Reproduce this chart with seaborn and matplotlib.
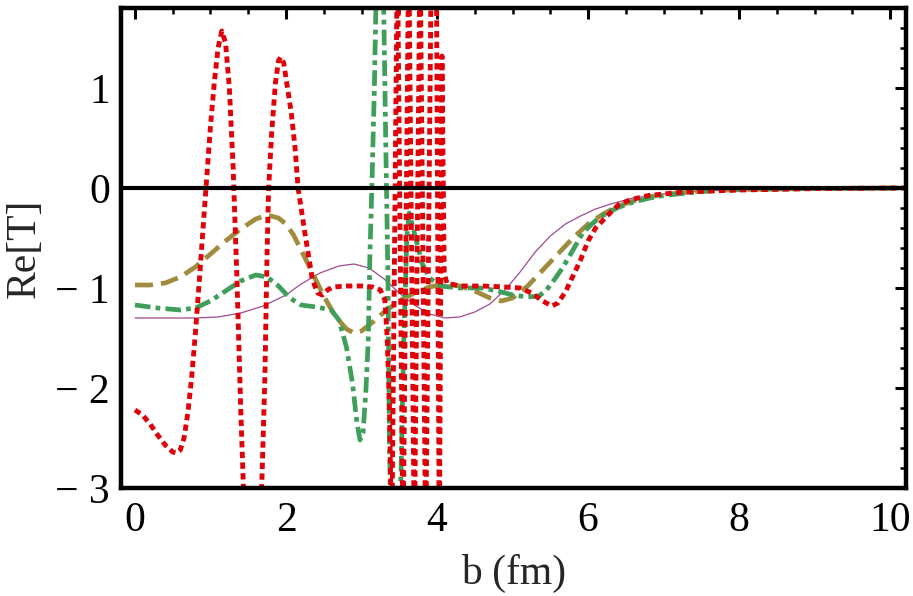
import numpy as np
import pandas as pd
import matplotlib
matplotlib.use("Agg")
import matplotlib.pyplot as plt
from matplotlib.ticker import MultipleLocator
import seaborn as sns

# ---------------- data ----------------
purple_x = [0, 0.4, 0.8, 1.1, 1.4, 1.7, 2.0, 2.2, 2.45, 2.7, 2.9, 3.1, 3.3, 3.5, 3.7, 3.9,
            4.1, 4.3, 4.5, 4.7, 4.9, 5.1, 5.3, 5.5, 5.7, 5.9, 6.1, 6.3, 6.6, 7.0, 7.5, 8.0, 9.0, 10.2]
purple_y = [-1.30, -1.30, -1.30, -1.29, -1.25, -1.18, -1.07, -0.96, -0.85, -0.78, -0.76, -0.80,
            -0.91, -1.05, -1.17, -1.26, -1.30, -1.29, -1.24, -1.16, -1.02, -0.84, -0.64, -0.48,
            -0.36, -0.28, -0.21, -0.16, -0.10, -0.06, -0.03, -0.015, -0.005, 0.0]

olive_x = [0, 0.2, 0.4, 0.6, 0.8, 1.0, 1.2, 1.4, 1.6, 1.75, 1.9, 2.0, 2.1, 2.2, 2.35, 2.5, 2.65,
           2.8, 2.9, 3.0, 3.15, 3.3, 3.5, 3.7, 3.9, 4.1, 4.3, 4.5, 4.7, 4.85, 5.0, 5.2, 5.4, 5.6,
           5.8, 6.0, 6.2, 6.4, 6.6, 6.8, 7.0, 7.5, 8.0, 9.0, 10.2]
olive_y = [-0.97, -0.97, -0.95, -0.89, -0.79, -0.66, -0.53, -0.41, -0.31, -0.27, -0.30, -0.36,
           -0.47, -0.62, -0.85, -1.08, -1.28, -1.41, -1.45, -1.43, -1.34, -1.24, -1.13, -1.05,
           -0.99, -0.96, -0.98, -1.03, -1.10, -1.13, -1.10, -0.98, -0.82, -0.66, -0.50, -0.36,
           -0.26, -0.18, -0.13, -0.09, -0.065, -0.03, -0.015, -0.005, 0.0]

green_x = [0, 0.3, 0.6, 0.8, 1.0, 1.2, 1.4, 1.6, 1.75, 1.9, 2.05, 2.2, 2.4, 2.6, 2.7, 2.8, 2.88,
           2.94, 2.98, 3.02, 3.06, 3.09, 3.11, 3.14, 3.17, 3.20, 3.25, 3.29, 3.32, 3.35, 3.37,
           3.40, 3.45, 3.50, 3.53, 3.56, 3.60, 3.63, 3.70, 3.80, 3.90, 4.04, 4.3, 4.6, 4.8, 5.0,
           5.2, 5.35, 5.45, 5.55, 5.67, 5.8, 5.93, 6.05, 6.16, 6.38, 6.6, 6.82, 7.0, 7.5, 8.0,
           9.0, 10.2]
green_y = [-1.17, -1.20, -1.22, -1.20, -1.13, -1.03, -0.93, -0.87, -0.89, -0.98, -1.10, -1.17,
           -1.19, -1.22, -1.32, -1.59, -1.95, -2.35, -2.52, -2.45, -2.00, -1.50, -0.70, 0.10,
           1.00, 2.20, 2.50, 2.00, 0.50, -0.90, -2.60, -3.60, -4.00, -3.60, -2.60, -1.50, -0.50,
           -0.25, -0.45, -0.75, -0.90, -0.98, -1.00, -1.00, -1.03, -1.07, -1.09, -1.08, -1.02,
           -0.92, -0.79, -0.62, -0.45, -0.36, -0.29, -0.20, -0.14, -0.10, -0.075, -0.035,
           -0.017, -0.005, 0.0]

red_x = [0, 0.1, 0.2, 0.3, 0.4, 0.5, 0.55, 0.6, 0.65, 0.7, 0.75, 0.8, 0.85, 0.9, 0.95, 1.0,
         1.05, 1.1, 1.15, 1.2, 1.25, 1.3, 1.35, 1.4, 1.45, 1.5, 1.55, 1.62, 1.68, 1.72, 1.75,
         1.77, 1.81, 1.86, 1.9, 1.93, 1.97, 2.01, 2.07, 2.12, 2.16, 2.25, 2.35, 2.42, 2.48, 2.55,
         2.62, 2.8, 3.0, 3.15, 3.25, 3.31, 3.34, 3.37,
         3.40, 3.475, 3.55, 3.625, 3.70, 3.775, 3.85, 3.925, 3.99, 4.03, 4.065, 4.095, 4.13,
         4.3, 4.6, 4.9, 5.1, 5.25, 5.4, 5.52, 5.6, 5.7, 5.8, 5.9, 6.0, 6.1, 6.25, 6.4, 6.55,
         6.8, 7.2, 7.6, 8.0, 9.0, 10.2]
red_y = [-2.22, -2.27, -2.36, -2.47, -2.57, -2.64, -2.65, -2.62, -2.50, -2.25, -1.90, -1.45,
         -0.95, -0.42, 0.10, 0.62, 1.05, 1.40, 1.57, 1.45, 1.00, 0.20, -0.90, -2.20, -3.30,
         -3.90, -4.20, -3.80, -2.95, -1.90, -0.62, 0.00, 0.55, 1.05, 1.27, 1.31, 1.25, 1.05,
         0.75, 0.40, 0.00, -0.45, -0.92, -1.05, -1.07, -1.02, -0.99, -0.98, -0.98, -0.99,
         -1.02, -1.12, -1.50, -2.20,
         -3.60, 2.40, -3.60, 2.40, -3.60, 2.40, -3.60, 2.40, 2.40, -3.60, 1.32, -0.85, -0.95,
         -0.98, -0.98, -0.99, -1.00, -1.05, -1.13, -1.18, -1.15, -1.04, -0.88, -0.72, -0.53,
         -0.40, -0.28, -0.17, -0.12, -0.075, -0.045, -0.03, -0.02, -0.006, 0.0]

x_ticks = [0, 2, 4, 6, 8, 10]
x_tick_labels = ["0", "2", "4", "6", "8", "10"]
y_ticks = [-3, -2, -1, 0, 1]
y_tick_labels = ["\u2212 3", "\u2212 2", "\u2212 1", "0", "1"]

# ---------------- styling ----------------
sns.set_style("white")
plt.rcParams["font.family"] = ["Liberation Serif", "DejaVu Serif"]

fig = plt.figure(figsize=(9.13, 5.96), dpi=100)
ax = fig.add_axes([121 / 913, 1 - 488 / 596, (906 - 121) / 913, (488 - 8) / 596])

series = [
    (purple_x, purple_y, "#a04a90", 0.9, "-"),
    (olive_x, olive_y, "#a08c3e", 3.4, (0, (3.8, 1.7))),
    (green_x, green_y, "#3f9e5a", 3.4, (0, (3.3, 1.1, 1.0, 1.1))),
    (red_x, red_y, "#e00008", 3.5, (0, (1.3, 0.9))),
]
for i, (xs, ys, col, lw, ls) in enumerate(series):
    df = pd.DataFrame({"b": xs, "ReT": ys})
    sns.lineplot(data=df, x="b", y="ReT", ax=ax, color=col, linewidth=lw,
                 linestyle=ls, estimator=None, sort=False, zorder=2 + i,
                 dash_capstyle="butt")

ax.axhline(0, color="black", lw=3.0, zorder=10)

ax.set_xlim(-0.185, 10.21)
ax.set_ylim(-3.0, 1.80)

ax.set_xticks(x_ticks)
ax.set_xticklabels(x_tick_labels)
ax.set_yticks(y_ticks)
ax.set_yticklabels(y_tick_labels)
ax.xaxis.set_minor_locator(MultipleLocator(0.5))
ax.yaxis.set_minor_locator(MultipleLocator(0.2))
ax.tick_params(which="both", direction="in", top=True, right=True, colors="black",
               labelsize=30)
ax.tick_params(which="major", length=8, width=2.2)
ax.tick_params(which="minor", length=4.5, width=1.8)
ax.tick_params(axis="x", which="major", pad=10)
ax.tick_params(axis="y", which="major", pad=8)

for sp in ax.spines.values():
    sp.set_linewidth(3.2)
    sp.set_color("black")
    sp.set_zorder(20)

ax.set_xlabel("b (fm)", fontsize=30, labelpad=10)
ax.set_ylabel("Re[T]", fontsize=30, labelpad=8)

fig.savefig("out.png", dpi=100)
